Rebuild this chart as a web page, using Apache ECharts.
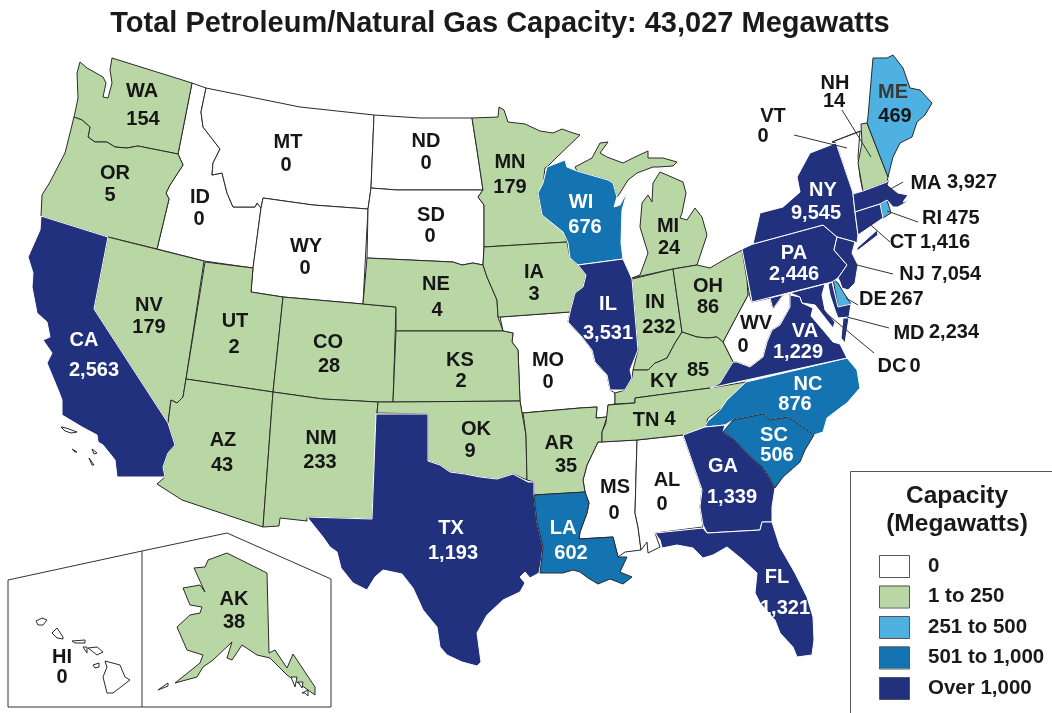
<!DOCTYPE html>
<html>
<head>
<meta charset="utf-8">
<title>Petroleum/Natural Gas Capacity</title>
<script src="https://cdn.jsdelivr.net/npm/echarts@6/dist/echarts.min.js"></script>
<style>
  html, body { margin: 0; padding: 0; background: #fff; }
  #chart { width: 1052px; height: 713px; }
</style>
</head>
<body>
<div id="chart"></div>
<script>
// capacity by state (megawatts)
const stateCodes = ['WA','OR','CA','NV','ID','MT','WY','UT','AZ','CO','NM','ND','SD','NE','KS','OK','TX','MN','IA','MO','AR','LA','WI','IL','MI','IN','OH','KY','TN','MS','AL','GA','FL','SC','NC','VA','WV','PA','NY','VT','NH','ME','MA','RI','CT','NJ','DE','MD','DC','AK','HI']
const stateValues = [154,5,2563,179,0,0,0,2,43,28,233,0,0,4,2,9,1193,179,3,0,35,602,676,3531,24,232,86,85,4,0,0,1339,1321,506,876,1229,0,2446,9545,0,14,469,3927,475,1416,7054,267,2234,0,38,0]

// states labelled outside their outline, always in dark text
const outsideStates = ['MA','RI','CT','NJ','DE','MD','DC','VT','NH']

// legend classes
const classLabels = ['0','1 to 250','251 to 500','501 to 1,000','Over 1,000']
const classMin = [0,1,251,501,1001]
const classMax = [0,250,500,1000,Infinity]
const classColors = ['#ffffff','#b9d7a4','#4eb1e2','#1474b2','#22317e']

const outlines = {
  ID: [[[192,83],[206,88],[201,112],[203,127],[213,140],[220,149],[213,163],[212,175],[222,173],[227,193],[233,207],[255,207],[257,203],[261,208],[253,268],[204,261],[157,249],[169,199],[166,193],[170,185],[183,165],[178,154]]],
  MT: [[[206,88],[300,107],[374,115],[371,188],[368,209],[313,205],[263,198],[261,208],[257,203],[255,207],[233,207],[227,193],[222,173],[212,175],[213,163],[220,149],[213,140],[203,127],[201,112]]],
  WY: [[[263,198],[313,205],[368,209],[363,304],[283,297],[251,292],[253,268],[261,208]]],
  ND: [[[374,115],[420,118],[472,118],[477,150],[483,190],[397,190],[371,188]]],
  SD: [[[371,188],[397,190],[483,190],[478,197],[484,205],[484,247],[483,265],[473,263],[462,265],[453,262],[367,258],[368,209]]],
  MO: [[[500,317],[570,312],[568,322],[582,337],[592,350],[595,362],[607,375],[610,390],[615,393],[615,404],[608,405],[607,417],[596,418],[597,407],[580,408],[522,413],[520,401],[518,350],[512,342],[513,333],[503,331]]],
  MS: [[[598,442],[637,440],[635,513],[638,527],[641,550],[625,552],[618,557],[613,537],[579,539],[580,532],[587,513],[589,503],[585,492],[583,480],[587,465]]],
  AL: [[[637,440],[683,435],[702,490],[700,507],[703,527],[655,533],[660,547],[648,553],[647,542],[641,550],[638,527],[635,513]]],
  VT: [[[832,142],[860,131],[858,157],[860,177],[863,192],[853,194],[836,143]]],
  WV: [[[747,280],[750,297],[752,302],[770,298],[773,309],[783,295],[790,293],[790,307],[780,325],[772,330],[767,342],[763,357],[750,367],[737,362],[733,362],[723,342],[733,323],[748,295]]],
  WA: [[[112,58],[192,83],[178,154],[138,146],[127,148],[115,147],[107,142],[95,142],[88,137],[90,127],[82,120],[74,117],[76,108],[78,98],[77,73],[80,62],[87,68],[103,77],[106,83],[103,97],[108,98],[112,83],[110,70]]],
  OR: [[[74,117],[82,120],[90,127],[88,137],[95,142],[107,142],[115,147],[127,148],[138,146],[178,154],[183,165],[170,185],[166,193],[169,199],[157,249],[108,237],[41,216],[42,195],[50,182],[65,153]]],
  NV: [[[108,237],[204,261],[186,379],[183,397],[177,403],[171,400],[168,423],[94,309]]],
  UT: [[[205,262],[253,268],[251,292],[283,297],[273,392],[186,379]]],
  AZ: [[[186,379],[273,392],[263,527],[182,500],[157,484],[165,477],[163,467],[168,453],[175,445],[168,423],[171,400],[177,403],[183,397]]],
  CO: [[[283,297],[363,304],[396,307],[393,402],[378,402],[323,399],[273,392]]],
  NM: [[[273,392],[323,399],[378,402],[377,413],[372,519],[307,517],[307,521],[280,518],[279,526],[263,527]]],
  NE: [[[367,258],[453,262],[462,265],[473,263],[483,265],[487,277],[497,300],[498,317],[503,331],[396,331],[396,307],[363,304]]],
  KS: [[[396,331],[503,331],[513,333],[512,342],[518,350],[520,401],[393,402]]],
  OK: [[[378,402],[393,402],[520,401],[522,413],[526,435],[527,480],[513,474],[497,479],[480,477],[465,474],[450,472],[440,465],[428,461],[428,414],[377,413]]],
  MN: [[[472,118],[498,117],[499,107],[504,110],[508,122],[525,124],[540,131],[553,133],[562,129],[573,133],[580,135],[557,157],[548,166],[545,168],[543,185],[538,193],[542,215],[563,230],[567,242],[484,247],[484,205],[478,197],[483,190],[477,150]]],
  IA: [[[484,247],[567,242],[570,258],[578,265],[586,275],[583,287],[575,293],[570,312],[500,317],[498,317],[497,300],[487,277],[483,265]]],
  AR: [[[523,413],[580,408],[597,407],[596,418],[607,417],[602,432],[602,442],[598,442],[587,465],[583,480],[585,492],[534,495],[534,482],[527,480],[526,435]]],
  MI: [
    [[575,167],[592,158],[600,143],[608,142],[600,153],[607,157],[623,163],[635,157],[648,151],[648,158],[663,158],[677,162],[673,166],[658,167],[653,167],[637,173],[628,180],[620,193],[617,197],[613,183],[608,180],[577,171]],
    [[660,172],[667,175],[683,182],[686,193],[682,213],[680,218],[687,220],[695,208],[702,217],[707,235],[702,250],[697,265],[673,269],[632,278],[640,275],[648,253],[640,227],[642,203],[648,195],[652,202],[653,183]]
  ],
  IN: [[[632,279],[673,269],[682,332],[675,343],[667,358],[658,362],[655,363],[648,370],[633,370],[638,350]]],
  OH: [[[673,269],[697,265],[710,268],[727,258],[742,250],[747,280],[748,295],[733,323],[723,342],[717,337],[707,338],[697,337],[682,332]]],
  KY: [[[633,370],[648,370],[655,363],[658,362],[667,358],[675,343],[682,332],[697,337],[707,338],[717,337],[723,342],[733,362],[720,383],[710,388],[635,398],[635,403],[615,404],[615,393],[625,390],[632,378]]],
  TN: [[[608,405],[635,403],[635,398],[710,388],[746,382],[742,390],[728,400],[722,408],[708,418],[705,428],[683,435],[637,440],[602,442],[602,432],[606,423]]],
  NH: [[[861,124],[867,123],[888,177],[887,182],[863,191],[858,163],[862,143]]],
  ME: [[[873,58],[887,58],[893,55],[903,68],[910,88],[920,90],[932,103],[925,115],[917,122],[912,137],[900,143],[893,157],[888,177],[867,123],[868,117],[870,93]]],
  RI: [[[880,204],[887,200],[891,213],[883,218]]],
  DE: [[[833,279],[838,283],[842,290],[851,304],[838,307]]],
  WI: [[[547,167],[565,160],[567,167],[577,171],[608,180],[613,183],[617,197],[614,207],[620,205],[627,192],[622,210],[621,243],[623,259],[578,265],[570,258],[568,243],[563,232],[542,215],[538,193],[543,183]]],
  NC: [[[746,382],[847,358],[857,370],[860,388],[847,403],[840,408],[827,418],[823,432],[814,435],[788,417],[770,420],[763,414],[733,420],[725,425],[705,427],[707,422],[720,410],[727,400]]],
  CA: [[[41,216],[108,237],[94,309],[168,423],[175,445],[168,453],[163,467],[165,477],[117,477],[115,460],[103,445],[98,442],[97,435],[82,427],[62,415],[62,400],[59,392],[47,363],[52,353],[43,340],[50,337],[47,322],[37,313],[32,287],[33,273],[28,257],[40,230]]],
  'CA islands': [
    [[61,427],[66,428],[77,432],[71,433],[65,431]],
    [[72,449],[77,452],[75,452]],
    [[92,449],[97,453],[94,454]],
    [[89,458],[94,465],[92,465]]
  ],
  TX: [[[376,414],[428,414],[428,461],[440,465],[450,472],[465,474],[480,477],[497,479],[513,474],[528,482],[534,482],[534,495],[537,522],[543,547],[541,562],[539,573],[530,578],[525,572],[520,577],[525,583],[520,592],[503,600],[487,615],[477,633],[481,662],[477,666],[462,662],[447,655],[440,647],[437,627],[423,610],[413,588],[402,574],[383,570],[375,577],[367,590],[353,583],[341,568],[337,552],[330,547],[323,537],[307,517],[372,519]]],
  IL: [[[578,265],[623,259],[628,270],[632,279],[638,350],[630,370],[632,378],[625,390],[610,390],[607,375],[595,362],[592,350],[582,337],[568,322],[570,312],[575,293],[583,287],[586,275]]],
  GA: [[[683,435],[705,427],[725,425],[723,432],[732,438],[763,468],[770,478],[775,488],[772,507],[772,522],[762,522],[760,530],[707,533],[703,525],[700,507],[702,490]]],
  FL: [[[655,533],[703,528],[707,533],[760,530],[762,522],[772,522],[780,547],[795,573],[807,597],[813,617],[814,640],[812,655],[797,657],[793,647],[780,633],[775,620],[760,603],[755,593],[757,573],[743,560],[727,547],[713,555],[703,558],[693,548],[677,545],[662,548],[660,540]]],
  VA: [
    [[710,388],[720,383],[733,362],[737,362],[750,367],[763,357],[767,342],[772,330],[780,325],[790,307],[790,295],[800,297],[802,303],[813,308],[811,316],[823,330],[833,342],[840,344],[847,358]],
    [[843,318],[849,318],[845,343],[841,338]]
  ],
  PA: [[[742,249],[753,244],[823,225],[837,237],[834,250],[847,265],[838,278],[832,282],[752,302]]],
  NY: [
    [[836,143],[852,190],[853,194],[855,212],[858,235],[857,243],[855,242],[837,237],[823,225],[753,244],[760,213],[783,207],[800,192],[797,177],[810,153]],
    [[857,248],[877,230],[878,235],[857,251]]
  ],
  NJ: [[[837,237],[855,242],[852,253],[858,265],[855,283],[848,290],[842,288],[840,282],[838,278],[847,265],[834,250]]],
  MD: [
    [[770,298],[825,284],[822,295],[825,310],[835,322],[833,328],[815,305],[802,303],[800,297],[790,293],[783,295],[773,309]],
    [[828,284],[832,282],[838,307],[851,304],[849,317],[838,318],[835,310],[830,295]]
  ],
  MA: [[[853,194],[863,191],[887,182],[890,178],[888,185],[898,193],[908,195],[903,202],[910,200],[898,207],[893,207],[887,200],[880,204],[855,212]]],
  CT: [[[855,212],[880,204],[883,218],[858,235]]],
  SC: [[[723,432],[733,420],[763,414],[770,420],[788,417],[814,435],[805,450],[800,462],[783,477],[775,488],[770,478],[763,468],[732,438]]],
  LA: [[[534,495],[585,492],[589,503],[587,513],[580,532],[579,539],[613,537],[618,557],[627,557],[620,572],[632,577],[623,584],[610,579],[598,584],[588,578],[580,572],[573,570],[563,573],[540,573],[543,547],[537,522]]],
  AK: [[[227,553],[267,573],[269,653],[275,650],[287,668],[293,654],[315,687],[315,695],[287,675],[270,658],[257,655],[242,645],[232,660],[227,658],[232,642],[213,660],[203,667],[197,677],[175,683],[200,663],[203,655],[187,650],[177,627],[190,615],[200,613],[202,607],[190,605],[183,588],[200,585],[205,592],[194,568],[205,567],[208,560]]],
  'AK islands': [
    [[158,690],[168,683],[168,686]],
    [[291,677],[297,677],[295,687]],
    [[298,682],[303,682],[302,688]],
    [[302,693],[308,690],[308,696],[305,693]]
  ],
  HI: [
    [[36,621],[42,618],[47,620],[43,625],[38,625]],
    [[52,633],[57,628],[63,637],[63,639],[57,638]],
    [[72,641],[85,640],[85,643],[75,643]],
    [[83,647],[87,647],[87,653]],
    [[88,648],[97,647],[103,652],[97,655],[92,651]],
    [[93,665],[99,663],[99,667],[95,668]],
    [[105,661],[120,665],[125,677],[130,680],[113,693],[107,693],[103,677],[107,667]]
  ]
}

// where the code and the value of each state sit
const labelSpots = {
  WA:[[142,91],[143,119]], OR:[[115,173],[110,195]], CA:[[84,340],[94,370]], NV:[[149,305],[149,327]],
  ID:[[200,197],[199,219]], MT:[[288,142],[286,165]], WY:[[306,246],[305,268]], UT:[[235,321],[234,347]],
  AZ:[[223,440],[222,465]], CO:[[328,342],[329,366]], NM:[[321,438],[320,462]], ND:[[426,141],[426,163]],
  SD:[[431,215],[430,236]], NE:[[436,284],[437,310]], KS:[[460,360],[461,381]], OK:[[476,429],[470,451]],
  TX:[[451,528],[453,553]], MN:[[510,162],[510,187]], IA:[[534,272],[534,294]], MO:[[548,360],[548,382]],
  AR:[[559,443],[566,466]], LA:[[563,528],[571,553]], WI:[[581,202],[585,227]], IL:[[608,304],[608,333]],
  MI:[[668,226],[669,248]], IN:[[655,302],[659,327]], OH:[[708,286],[708,307]], KY:[[664,381],[698,370]],
  TN:[[646,420],[670,419]], MS:[[615,487],[614,513]], AL:[[667,480],[662,504]], GA:[[723,466],[732,497]],
  FL:[[777,577],[785,608]], SC:[[774,435],[777,455]], NC:[[808,384],[795,404]], VA:[[805,331],[798,352]],
  WV:[[756,323],[743,346]], PA:[[794,253],[794,274]], NY:[[823,190],[816,213]], VT:[[773,116],[763,136]],
  NH:[[835,83],[834,101]], ME:[[893,92],[895,116]], MA:[[926,183],[972,182]], RI:[[932,218],[963,218]],
  CT:[[903,242],[945,242]], NJ:[[912,274],[956,274]], DE:[[873,299],[907,299]], MD:[[909,333],[954,332]],
  DC:[[892,366],[915,366]], AK:[[234,599],[234,622]], HI:[[62,657],[62,677]]
}

// leader lines from small states to their labels
const leaderLines = [
  [[794,135],[847,148]], [[832,142],[861,131]], [[842,110],[871,157]], [[903,182],[878,196]],
  [[918,222],[887,211]], [[890,242],[865,220]], [[893,274],[849,263]], [[858,305],[846,298]],
  [[889,328],[847,317]], [[874,353],[815,304]]
]
// frame round the Alaska and Hawaii insets
const insetFrame = [[8,580],[142,551],[227,533],[331,579],[331,707],[8,707],[8,580]]
const insetDivider = [[142,551],[142,707]]

const flip = ([x, y]) => [x, -y]

const geoJson = {
  type: 'FeatureCollection',
  features: Object.keys(outlines).map((name) => ({
    type: 'Feature',
    properties: { name },
    geometry: {
      type: 'MultiPolygon',
      coordinates: outlines[name].map((ring) => [ring.map(flip)])
    }
  }))
}
echarts.registerMap('usStates', geoJson)

const mapBox = {
  left: 0,
  top: 0,
  width: 1052,
  height: 713,
  aspectScale: 1,
  boundingCoords: [[0, 0], [1052, -713]],
  roam: false,
  silent: true
}

const classOf = (v) => classMin.findIndex((m, i) => v >= m && v <= classMax[i])

// dark fills get a white edge, light ones a dark edge
const edgeColor = (code, v) => {
  if (code === 'SC' || code === 'LA') return '#2a2a2a'
  return classOf(v) >= 3 ? '#ffffff' : '#2a2a2a'
}

const mapData = stateCodes.map((code, i) => ({
  name: code,
  value: stateValues[i],
  itemStyle: { borderColor: edgeColor(code, stateValues[i]), borderWidth: 1 }
}))

const labelData = []
stateCodes.forEach((code, i) => {
  const v = stateValues[i]
  const onDark = classOf(v) >= 3 && !outsideStates.includes(code)
  const valueColor = onDark ? '#ffffff' : '#161616'
  const color = code === 'ME' ? '#3a3a3a' : valueColor
  labelData.push({ value: flip(labelSpots[code][0]), text: code, label: { color } })
  labelData.push({ value: flip(labelSpots[code][1]), text: v.toLocaleString('en-US'), label: { color: valueColor } })
})

const swatchFrames = classLabels.map((_, i) => ({
  type: 'rect',
  z: 100,
  silent: true,
  shape: { x: 879.5, y: 555.5 + i * 30.5, width: 30, height: 22 },
  style: { fill: 'none', stroke: '#555', lineWidth: 1 }
}))

const chart = echarts.init(document.getElementById('chart'))
chart.setOption({
  backgroundColor: '#fff',
  animation: false,
  title: {
    text: 'Total Petroleum/Natural Gas Capacity: 43,027 Megawatts',
    left: 495,
    top: 4,
    textAlign: 'center',
    textStyle: { fontFamily: 'Liberation Sans', fontSize: 29, fontWeight: 'bold', color: '#1a1a1a' }
  },
  geo: {
    ...mapBox,
    map: 'usStates',
    itemStyle: { areaColor: 'transparent', borderColor: 'transparent', borderWidth: 0 },
    emphasis: { disabled: true },
    select: { disabled: true }
  },
  visualMap: {
    type: 'piecewise',
    seriesIndex: 0,
    orient: 'vertical',
    inverse: true,
    align: 'left',
    padding: 0,
    left: 879,
    top: 555,
    itemWidth: 30,
    itemHeight: 22,
    itemGap: 8.5,
    textGap: 19,
    itemSymbol: 'rect',
    hoverLink: false,
    selectedMode: false,
    textStyle: { fontFamily: 'Liberation Sans', fontSize: 20.5, fontWeight: 'bold', color: '#1a1a1a' },
    pieces: classLabels.map((label, i) => (
      classMax[i] === Infinity
        ? { min: classMin[i], label, color: classColors[i] }
        : { min: classMin[i], max: classMax[i], label, color: classColors[i] }
    ))
  },
  graphic: [
    {
      type: 'polyline',
      z: 1,
      silent: true,
      shape: { points: [[850.5, 713], [850.5, 471.5], [1052, 471.5]] },
      style: { fill: 'none', stroke: '#555', lineWidth: 1 }
    },
    {
      type: 'text',
      z: 100,
      silent: true,
      style: {
        x: 957,
        y: 482,
        text: 'Capacity\n(Megawatts)',
        align: 'center',
        font: 'bold 24.5px "Liberation Sans"',
        lineHeight: 28,
        fill: '#1a1a1a'
      }
    },
    ...swatchFrames
  ],
  series: [
    {
      type: 'map',
      ...mapBox,
      map: 'usStates',
      data: mapData,
      label: { show: false },
      itemStyle: { areaColor: '#ffffff', borderColor: '#2a2a2a', borderWidth: 1 },
      emphasis: { disabled: true },
      select: { disabled: true }
    },
    {
      type: 'lines',
      coordinateSystem: 'geo',
      silent: true,
      z: 5,
      lineStyle: { color: '#333', width: 1, opacity: 1 },
      data: leaderLines.map((l) => ({ coords: l.map(flip) }))
    },
    {
      type: 'lines',
      coordinateSystem: 'geo',
      polyline: true,
      silent: true,
      z: 5,
      lineStyle: { color: '#333', width: 1, opacity: 1 },
      data: [insetFrame, insetDivider].map((l) => ({ coords: l.map(flip) }))
    },
    {
      type: 'scatter',
      coordinateSystem: 'geo',
      silent: true,
      z: 10,
      symbolSize: 0,
      itemStyle: { opacity: 1 },
      data: labelData,
      label: {
        show: true,
        position: 'inside',
        formatter: (p) => p.data.text,
        fontFamily: 'Liberation Sans',
        fontSize: 20,
        fontWeight: 'bold',
        textBorderWidth: 0,
        align: 'center',
        verticalAlign: 'middle'
      }
    }
  ]
})
</script>
</body>
</html>
